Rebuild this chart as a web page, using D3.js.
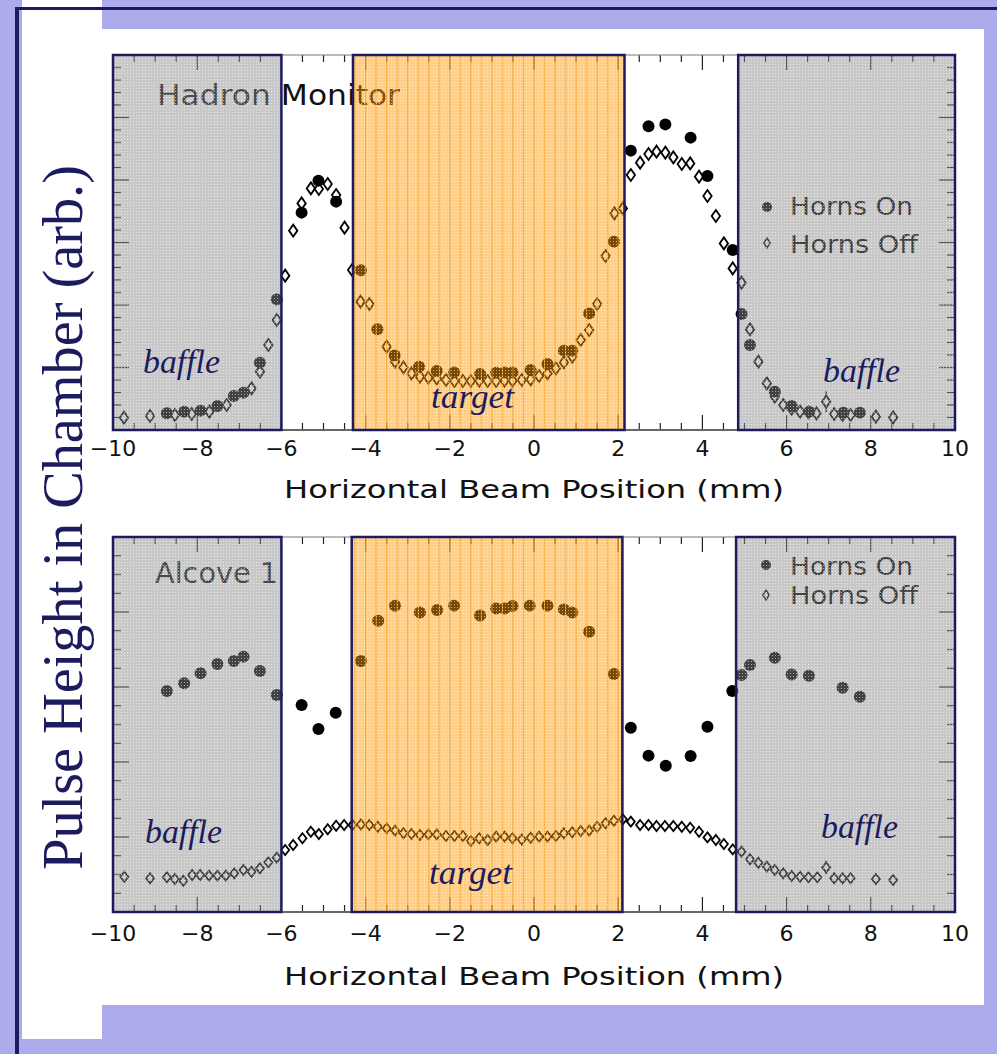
<!DOCTYPE html>
<html><head><meta charset="utf-8">
<script src="https://cdn.jsdelivr.net/npm/d3@7"></script>
<style>html,body{margin:0;padding:0;background:#acacec;}svg{display:block;}</style>
</head><body>
<svg id="c" width="997" height="1054"></svg>
<script>
// ---------- DATA ----------
const xTicks = [-10,-8,-6,-4,-2,0,2,4,6,8,10];
const seriesNames = ["Horns On","Horns Off"];
const panelTitles = ["Hadron Monitor","Alcove 1"];
const yAxisTitle = "Pulse Height in Chamber (arb.)";
const xAxisTitle = "Horizontal Beam Position (mm)";
const baffleLeft = [-10,-6];
const targetTop = [-4.3,2.15];
const baffleRightTop = [4.85,10];
const targetBot = [-4.33,2.1];
const baffleRightBot = [4.8,10];

const topOn = [[-8.72,1.34],[-8.31,1.47],[-7.92,1.55],[-7.52,1.92],[-7.13,2.72],[-6.90,2.99],[-6.51,5.39],[-6.11,10.45],[-5.52,17.39],[-5.12,19.95],[-4.70,18.27],[-4.11,12.78],[-3.72,8.06],[-3.31,5.96],[-2.73,5.07],[-2.31,4.72],[-1.90,4.61],[-1.28,4.48],[-0.90,4.59],[-0.70,4.61],[-0.51,4.61],[-0.08,4.80],[0.32,5.28],[0.71,6.35],[0.91,6.35],[1.31,9.33],[1.90,15.07],[2.30,22.35],[2.72,24.30],[3.12,24.45],[3.72,23.39],[4.12,20.32],[4.72,14.40],[4.93,9.28],[5.13,6.80],[5.72,3.07],[6.12,1.92],[6.54,1.47],[7.35,1.39],[7.74,1.39]];
const topOff = [[-9.74,0.99],[-9.12,1.12],[-8.53,1.20],[-8.13,1.28],[-7.71,1.47],[-7.30,2.00],[-6.71,3.33],[-6.51,4.67],[-6.31,6.80],[-6.11,8.80],[-5.91,12.35],[-5.72,15.95],[-5.52,18.13],[-5.30,19.33],[-5.11,19.28],[-4.90,19.68],[-4.70,18.80],[-4.50,16.19],[-4.32,12.80],[-4.12,10.27],[-3.91,10.08],[-3.50,6.67],[-3.30,5.47],[-3.10,5.01],[-2.91,4.53],[-2.71,4.27],[-2.51,4.19],[-2.31,4.13],[-2.09,4.00],[-1.89,3.92],[-1.69,3.92],[-1.50,3.92],[-1.30,3.95],[-1.10,3.92],[-0.90,3.92],[-0.70,3.95],[-0.51,3.95],[-0.29,4.00],[-0.08,4.05],[0.12,4.32],[0.32,4.53],[0.52,4.93],[0.71,5.41],[0.91,5.87],[1.11,7.20],[1.31,8.00],[1.50,10.08],[1.70,13.92],[1.91,17.33],[2.11,17.73],[2.30,20.40],[2.52,21.39],[2.72,22.08],[2.91,22.27],[3.12,22.19],[3.31,21.81],[3.51,21.28],[3.71,21.33],[3.92,20.27],[4.12,18.72],[4.32,17.12],[4.51,14.93],[4.72,12.93],[4.93,11.79],[5.13,8.05],[5.33,5.47],[5.53,3.73],[5.72,2.67],[5.92,2.00],[6.12,1.70],[6.32,1.47],[6.52,1.40],[6.71,1.33],[6.94,2.27],[7.13,1.28],[7.33,1.20],[7.52,1.20],[8.12,1.07],[8.53,1.01]];
const topErr = [[6.94,2.27,0.85]];

const botOn = [[-8.72,11.79],[-8.31,12.20],[-7.92,12.73],[-7.52,13.23],[-7.13,13.39],[-6.90,13.62],[-6.51,12.85],[-6.11,11.57],[-5.52,11.04],[-5.12,9.76],[-4.71,10.63],[-4.11,13.39],[-3.70,15.53],[-3.30,16.33],[-2.71,15.97],[-2.30,16.11],[-1.90,16.34],[-1.28,15.81],[-0.90,16.19],[-0.70,16.19],[-0.51,16.32],[-0.10,16.34],[0.32,16.34],[0.71,16.14],[0.91,15.97],[1.31,14.95],[1.90,12.69],[2.30,9.83],[2.72,8.34],[3.13,7.80],[3.72,8.32],[4.12,9.88],[4.71,11.79],[4.93,12.64],[5.13,13.17],[5.72,13.56],[6.12,12.67],[6.53,12.60],[7.33,11.96],[7.74,11.48]];
const botOff = [[-9.73,1.88],[-9.12,1.80],[-8.72,1.85],[-8.53,1.76],[-8.33,1.67],[-8.12,1.97],[-7.93,1.97],[-7.72,1.94],[-7.52,1.94],[-7.32,1.94],[-7.12,2.06],[-6.90,2.24],[-6.71,2.15],[-6.51,2.33],[-6.31,2.65],[-6.11,2.90],[-5.91,3.31],[-5.72,3.57],[-5.50,3.93],[-5.30,4.28],[-5.11,4.16],[-4.90,4.41],[-4.70,4.60],[-4.51,4.64],[-4.31,4.64],[-4.11,4.67],[-3.91,4.64],[-3.71,4.55],[-3.50,4.46],[-3.30,4.34],[-3.10,4.20],[-2.91,4.16],[-2.71,4.11],[-2.51,4.14],[-2.31,4.14],[-2.09,4.05],[-1.89,4.05],[-1.69,4.05],[-1.50,3.79],[-1.30,3.93],[-1.10,3.84],[-0.90,4.02],[-0.70,4.02],[-0.51,3.93],[-0.29,3.87],[-0.08,3.96],[0.12,4.02],[0.32,4.02],[0.52,4.05],[0.71,4.20],[0.91,4.25],[1.11,4.32],[1.31,4.34],[1.50,4.55],[1.70,4.73],[1.90,4.87],[2.11,4.95],[2.30,4.82],[2.52,4.64],[2.72,4.64],[2.91,4.59],[3.11,4.59],[3.31,4.59],[3.51,4.55],[3.71,4.49],[3.92,4.28],[4.12,3.98],[4.32,3.84],[4.51,3.63],[4.72,3.34],[4.93,3.22],[5.13,2.81],[5.33,2.63],[5.53,2.42],[5.72,2.24],[5.92,2.06],[6.12,1.92],[6.32,1.88],[6.52,1.85],[6.73,1.85],[6.94,2.38],[7.13,1.80],[7.33,1.80],[7.52,1.80],[8.12,1.76],[8.53,1.71]];
const botErr = [[6.94,2.38,0.36]];

// ---------- DRAW ----------
const svg = d3.select("#c");
const NAVY = "#1b1b5e";
const LAV = "#acacec";

svg.append("rect").attr("width",997).attr("height",1054).attr("fill",LAV);
svg.append("rect").attr("x",22).attr("y",0).attr("width",80).attr("height",1039).attr("fill","#fff");
svg.append("rect").attr("x",102).attr("y",29).attr("width",882).attr("height",976).attr("fill","#fff");
svg.append("rect").attr("x",15).attr("y",7).attr("width",982).attr("height",3).attr("fill",NAVY);
svg.append("rect").attr("x",15).attr("y",7).attr("width",4).attr("height",1047).attr("fill",NAVY);

const defs = svg.append("defs");
const pat = defs.append("pattern").attr("id","dots").attr("width",3).attr("height",3).attr("patternUnits","userSpaceOnUse");
pat.append("rect").attr("x",1).attr("y",1).attr("width",1).attr("height",1).attr("fill","#fff").attr("opacity",0.55);

const x = d3.scaleLinear().domain([-10,10]).range([113,955]);

const panels = [
  {on:topOn, off:topOff, err:topErr, y0:55, y1:430, yMax:30, yMinor:1, yMajor:5, title:panelTitles[0],
   titleX:157, titleY:105, titleW:243, target:targetTop, bRight:baffleRightTop,
   legX:767, legY:[207,243], legTextY:[215,253], tickY:456, axisTitleY:498,
   labels:[["baffle",143,373],["baffle",823,382],["target",431,408]], dia:[4.2,6]},
  {on:botOn, off:botOff, err:botErr, y0:537, y1:912, yMax:20, yMinor:1, yMajor:4, title:panelTitles[1],
   titleX:155, titleY:583, titleW:123, target:targetBot, bRight:baffleRightBot,
   legX:766, legY:[565,595], legTextY:[575,604], tickY:941, axisTitleY:985,
   labels:[["baffle",145,843],["baffle",821,838],["target",429,884]], dia:[4,5]}
];

const fmt = v => (v<0 ? "\u2212" : "") + Math.abs(v);

panels.forEach(p => {
  const y = d3.scaleLinear().domain([0,p.yMax]).range([p.y1,p.y0]);
  const g = svg.append("g");

  // ticks
  const xt = d3.range(-10,10.0001,0.5);
  xt.forEach(v => {
    const maj = Math.abs(v % 2) < 1e-6;
    const L = maj ? 15 : 7;
    g.append("line").attr("x1",x(v)).attr("x2",x(v)).attr("y1",p.y0).attr("y2",p.y0+L).attr("stroke","#222").attr("stroke-width",1.2);
    g.append("line").attr("x1",x(v)).attr("x2",x(v)).attr("y1",p.y1).attr("y2",p.y1-L).attr("stroke","#222").attr("stroke-width",1.2);
  });
  const yt = d3.range(0,p.yMax+0.0001,p.yMinor);
  yt.forEach(v => {
    const maj = Math.abs(v % p.yMajor) < 1e-6;
    const L = maj ? 16 : 8;
    g.append("line").attr("x1",x(-10)).attr("x2",x(-10)+L).attr("y1",y(v)).attr("y2",y(v)).attr("stroke","#222").attr("stroke-width",1.2);
    g.append("line").attr("x1",x(10)).attr("x2",x(10)-L).attr("y1",y(v)).attr("y2",y(v)).attr("stroke","#222").attr("stroke-width",1.2);
  });

  // error bars
  p.err.forEach(e => {
    g.append("line").attr("x1",x(e[0])).attr("x2",x(e[0])).attr("y1",y(e[1]-e[2])).attr("y2",y(e[1]+e[2])).attr("stroke","#000").attr("stroke-width",1.3);
  });

  // diamonds (Horns Off)
  const [dw,dh] = p.dia;
  g.selectAll("path.off").data(p.off).enter().append("path")
    .attr("d", d => `M${x(d[0])},${y(d[1])-dh}L${x(d[0])+dw},${y(d[1])}L${x(d[0])},${y(d[1])+dh}L${x(d[0])-dw},${y(d[1])}Z`)
    .attr("fill","#fff").attr("stroke","#000").attr("stroke-width",1.8);
  // circles (Horns On)
  g.selectAll("circle.on").data(p.on).enter().append("circle")
    .attr("cx", d => x(d[0])).attr("cy", d => y(d[1])).attr("r",6).attr("fill","#000");

  // title
  g.append("text").attr("x",p.titleX).attr("y",p.titleY).text(p.title)
    .attr("font-family","DejaVu Sans").attr("font-size",28).attr("fill","#111")
    .attr("textLength",p.titleW).attr("lengthAdjust","spacingAndGlyphs");

  // legend
  g.append("circle").attr("cx",p.legX).attr("cy",p.legY[0]).attr("r",5).attr("fill","#000");
  g.append("path").attr("d",`M${p.legX},${p.legY[1]-5}L${p.legX+3.2},${p.legY[1]}L${p.legX},${p.legY[1]+5}L${p.legX-3.2},${p.legY[1]}Z`)
    .attr("fill","#fff").attr("stroke","#000").attr("stroke-width",1.4);
  g.append("text").attr("x",790).attr("y",p.legTextY[0]).text(seriesNames[0])
    .attr("font-family","DejaVu Sans").attr("font-size",25).attr("fill","#000")
    .attr("textLength",123).attr("lengthAdjust","spacingAndGlyphs");
  g.append("text").attr("x",790).attr("y",p.legTextY[1]).text(seriesNames[1])
    .attr("font-family","DejaVu Sans").attr("font-size",25).attr("fill","#000")
    .attr("textLength",128).attr("lengthAdjust","spacingAndGlyphs");

  // overlays
  const boxes = [[baffleLeft,"gray"],[p.target,"orange"],[p.bRight,"gray"]];
  boxes.forEach(([r,kind]) => {
    const bx = x(r[0]), bw = x(r[1]) - x(r[0]);
    if (kind === "gray") {
      g.append("rect").attr("x",bx).attr("y",p.y0).attr("width",bw).attr("height",p.y1-p.y0)
        .attr("fill","rgb(139,139,139)").attr("fill-opacity",0.47);
    } else {
      g.append("rect").attr("x",bx).attr("y",p.y0).attr("width",bw).attr("height",p.y1-p.y0)
        .attr("fill","rgb(255,152,0)").attr("fill-opacity",0.47);
      d3.range(Math.ceil(r[0]/0.25)*0.25, r[1], 0.25).forEach(v => {
        g.append("line").attr("x1",x(v)).attr("x2",x(v)).attr("y1",p.y0).attr("y2",p.y1)
          .attr("stroke","rgb(242,155,30)").attr("stroke-opacity",0.75).attr("stroke-width",1);
      });
    }
    g.append("rect").attr("x",bx).attr("y",p.y0).attr("width",bw).attr("height",p.y1-p.y0)
      .attr("fill","url(#dots)");
  });

  // frame
  g.append("rect").attr("x",x(-10)).attr("y",p.y0).attr("width",x(10)-x(-10)).attr("height",p.y1-p.y0)
    .attr("fill","none").attr("stroke","#777").attr("stroke-width",1);
  g.append("line").attr("x1",x(-10)).attr("x2",x(10)).attr("y1",p.y1).attr("y2",p.y1).attr("stroke","#666").attr("stroke-width",2);

  boxes.forEach(([r]) => {
    g.append("rect").attr("x",x(r[0])).attr("y",p.y0).attr("width",x(r[1])-x(r[0])).attr("height",p.y1-p.y0)
      .attr("fill","none").attr("stroke",NAVY).attr("stroke-width",2.5);
  });

  // region labels
  p.labels.forEach(([t,lx,ly]) => {
    g.append("text").attr("x",lx).attr("y",ly).text(t)
      .attr("font-family","Liberation Serif").attr("font-style","italic").attr("font-size",33)
      .attr("fill",NAVY).attr("textLength", t === "baffle" ? 77 : 83).attr("lengthAdjust","spacingAndGlyphs");
  });

  // tick labels
  xTicks.forEach(v => {
    g.append("text").attr("x",x(v)).attr("y",p.tickY).attr("text-anchor","middle").text(fmt(v))
      .attr("font-family","DejaVu Sans").attr("font-size",22).attr("fill","#111");
  });
  g.append("text").attr("x",284).attr("y",p.axisTitleY).text(xAxisTitle)
    .attr("font-family","DejaVu Sans").attr("font-size",25).attr("fill","#111")
    .attr("textLength",500).attr("lengthAdjust","spacingAndGlyphs");
});

// y axis title
const yl = svg.append("text").attr("transform","translate(82,517.5) rotate(-90)")
  .attr("text-anchor","middle").text(yAxisTitle)
  .attr("font-family","Liberation Serif").attr("font-size",56).attr("fill",NAVY);
const w = yl.node().getComputedTextLength();
yl.attr("font-size", 56*705/w);
</script>
</body></html>
